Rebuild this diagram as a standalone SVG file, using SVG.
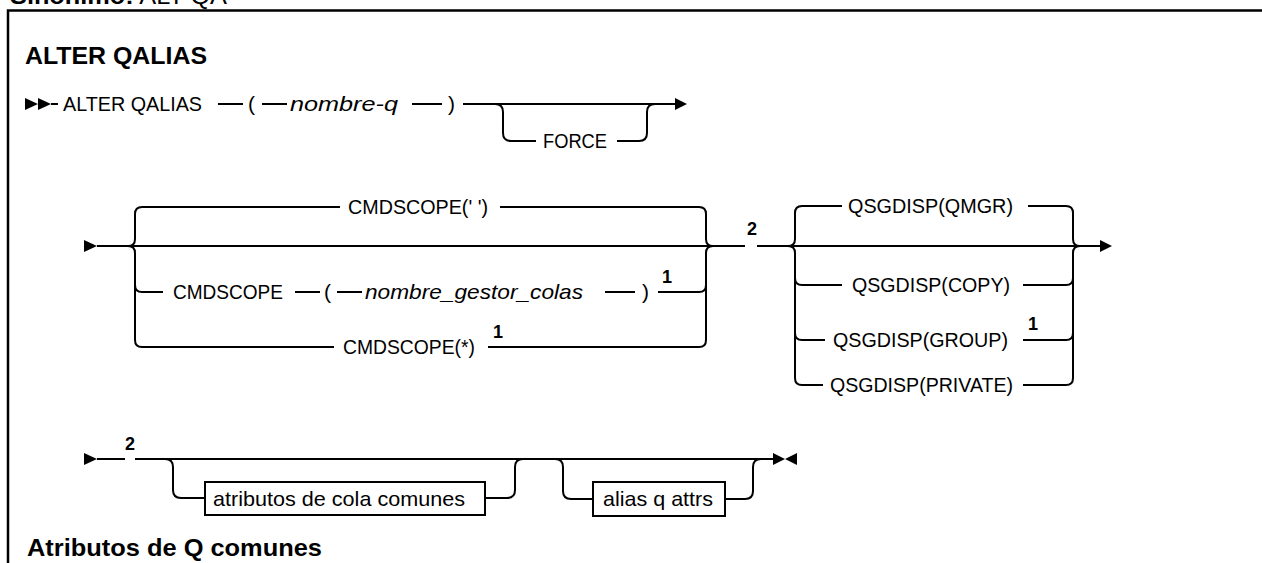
<svg xmlns="http://www.w3.org/2000/svg" width="1262" height="563" viewBox="0 0 1262 563">
<style>
text{font-family:"Liberation Sans",Arial,sans-serif;fill:#000}
.h{font-size:24px;font-weight:bold}
.t{font-size:21px}
.i{font-size:21px;font-style:italic}
.n{font-size:18px;font-weight:bold}
.ln{fill:none;stroke:#000;stroke-width:2}
.box{fill:#fff;stroke:#000;stroke-width:2}
.ar{fill:#000;stroke:none}
</style>
<rect x="0" y="0" width="1262" height="563" fill="#fff"/>
<g id="header"><text x="10" y="4" font-size="24" textLength="217" lengthAdjust="spacingAndGlyphs"><tspan font-weight="bold">Sinónimo:</tspan> ALT QA</text></g>
<rect id="frame" x="8" y="10.5" width="1270" height="570" fill="none" stroke="#000" stroke-width="2.5"/>
<g id="title"><text class="h" x="25" y="64" textLength="182" lengthAdjust="spacingAndGlyphs">ALTER QALIAS</text></g>

<g id="connectors">
  <!-- row 1 -->
  <path class="ar" d="M25 98 L38 104 L25 110 Z M38 98 L51 104 L38 110 Z"/>
  <path class="ln" d="M51 104 H58 M218 104 H243 M262 104 H287 M412 104 H442 M463 104 H676"/>
  <path class="ar" d="M675 98 L687 104 L675 110 Z"/>
  <path class="ln" d="M495 104 Q503 104 503 112 V133 Q503 141 511 141 H536 M617 141 H639 Q647 141 647 133 V112 Q647 104 655 104"/>
  <!-- row 2 -->
  <path class="ar" d="M84 240 L97 246 L84 252 Z"/>
  <path class="ln" d="M97 246 H745 M757 246 H1101"/>
  <path class="ar" d="M1100 240 L1112 246 L1100 252 Z"/>
  <path class="ln" d="M128 246 Q135 246 135 239 V214 Q135 207 142 207 H340 M500 207 H699 Q706 207 706 214 V239 Q706 246 713 246"/>
  <path class="ln" d="M128 246 Q135 246 135 253 V340 Q135 347 142 347 H334 M488 347 H699 Q706 347 706 340 V253 Q706 246 713 246"/>
  <path class="ln" d="M135 285 Q135 292 142 292 H163 M295 292 H320 M337 292 H362 M605 292 H635 M658 292 H699 Q706 292 706 285"/>
  <path class="ln" d="M788 246 Q795 246 795 239 V213 Q795 206 802 206 H842 M1028 206 H1066 Q1073 206 1073 213 V239 Q1073 246 1080 246"/>
  <path class="ln" d="M788 246 Q795 246 795 253 V378 Q795 385 802 385 H823 M1023 385 H1066 Q1073 385 1073 378 V253 Q1073 246 1080 246"/>
  <path class="ln" d="M795 278 Q795 285 802 285 H842 M1023 285 H1066 Q1073 285 1073 278"/>
  <path class="ln" d="M795 333 Q795 340 802 340 H825 M1023 340 H1066 Q1073 340 1073 333"/>
  <!-- row 3 -->
  <path class="ar" d="M84 453 L97 459 L84 465 Z"/>
  <path class="ln" d="M97 459 H125 M135 459 H774"/>
  <path class="ar" d="M773 453 L785 459 L773 465 Z M797 453 L785 459 L797 465 Z"/>
  <path class="ln" d="M165 459 Q173 459 173 467 V490 Q173 498 181 498 H205 M485 498 H507 Q515 498 515 490 V467 Q515 459 523 459"/>
  <path class="ln" d="M555 459 Q563 459 563 467 V491 Q563 499 571 499 H593 M725 499 H745 Q753 499 753 491 V467 Q753 459 761 459"/>
</g>

<g id="n-alter"><text class="t" x="63" y="111" textLength="139" lengthAdjust="spacingAndGlyphs">ALTER QALIAS</text></g>
<g id="n-paren1"><text class="t" x="248" y="111">(</text></g>
<g id="n-nombreq"><text class="i" x="290" y="111" textLength="108" lengthAdjust="spacingAndGlyphs">nombre-q</text></g>
<g id="n-paren2"><text class="t" x="448" y="111">)</text></g>
<g id="n-force"><text class="t" x="543" y="148" textLength="64" lengthAdjust="spacingAndGlyphs">FORCE</text></g>

<g id="n-cmd-blank"><text class="t" x="348" y="214" textLength="140" lengthAdjust="spacingAndGlyphs">CMDSCOPE(' ')</text></g>
<g id="n-cmd"><text class="t" x="173" y="299" textLength="110" lengthAdjust="spacingAndGlyphs">CMDSCOPE</text></g>
<g id="n-paren3"><text class="t" x="324" y="299">(</text></g>
<g id="n-qmgrname"><text class="i" x="365" y="299" textLength="218" lengthAdjust="spacingAndGlyphs">nombre_gestor_colas</text></g>
<g id="n-paren4"><text class="t" x="642" y="299">)</text></g>
<g id="n-note1a"><text class="n" x="662" y="283">1</text></g>
<g id="n-cmd-star"><text class="t" x="343" y="354" textLength="132" lengthAdjust="spacingAndGlyphs">CMDSCOPE(*)</text></g>
<g id="n-note1b"><text class="n" x="493" y="338">1</text></g>
<g id="n-note2a"><text class="n" x="747" y="235">2</text></g>

<g id="n-qmgr"><text class="t" x="848" y="213" textLength="165" lengthAdjust="spacingAndGlyphs">QSGDISP(QMGR)</text></g>
<g id="n-copy"><text class="t" x="852" y="292" textLength="158" lengthAdjust="spacingAndGlyphs">QSGDISP(COPY)</text></g>
<g id="n-group"><text class="t" x="833" y="347" textLength="175" lengthAdjust="spacingAndGlyphs">QSGDISP(GROUP)</text></g>
<g id="n-note1c"><text class="n" x="1028" y="330">1</text></g>
<g id="n-private"><text class="t" x="830" y="392" textLength="183" lengthAdjust="spacingAndGlyphs">QSGDISP(PRIVATE)</text></g>

<g id="n-note2b"><text class="n" x="125" y="450">2</text></g>
<g id="n-common"><rect class="box" x="205" y="482" width="280" height="33"/><text class="t" x="213" y="506" textLength="252" lengthAdjust="spacingAndGlyphs">atributos de cola comunes</text></g>
<g id="n-alias"><rect class="box" x="593" y="482" width="132" height="34"/><text class="t" x="603" y="506" textLength="110" lengthAdjust="spacingAndGlyphs">alias q attrs</text></g>

<g id="n-heading2"><text class="h" x="27" y="556" textLength="295" lengthAdjust="spacingAndGlyphs">Atributos de Q comunes</text></g>
</svg>
